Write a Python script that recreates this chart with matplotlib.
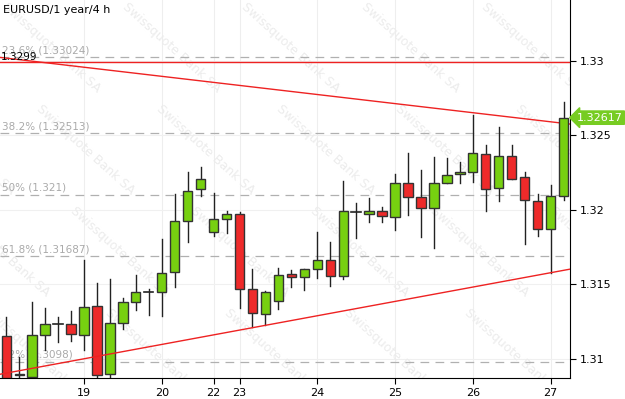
import matplotlib
matplotlib.use("Agg")
import matplotlib.pyplot as plt
from matplotlib.patches import Rectangle
import matplotlib.transforms as mtransforms

# 4h candles, EURUSD
opens = [1.31153, 1.3090, 1.30876, 1.31158, 1.31232, 1.3123, 1.31162, 1.31357, 1.30901, 1.31243,
         1.31381, 1.31448, 1.31448, 1.31579, 1.31923, 1.32136, 1.31847, 1.31934, 1.31968, 1.31471,
         1.31303, 1.31388, 1.31569, 1.31545, 1.31599, 1.31661, 1.31558, 1.31983, 1.31974, 1.3199,
         1.31952, 1.32176, 1.32082, 1.32012, 1.3218, 1.32238, 1.32254, 1.32372, 1.32142, 1.32361,
         1.32216, 1.32057, 1.31867, 1.32093]
highs = [1.31281, 1.3101, 1.31379, 1.31339, 1.31281, 1.31319, 1.31661, 1.31505, 1.31534, 1.31408,
         1.3156, 1.3147, 1.31802, 1.32104, 1.32254, 1.32287, 1.32115, 1.3199, 1.31981, 1.31605,
         1.31453, 1.31612, 1.31594, 1.31601, 1.31847, 1.31784, 1.32191, 1.32042, 1.32075, 1.32019,
         1.32238, 1.32377, 1.32265, 1.3235, 1.32344, 1.32317, 1.32634, 1.32433, 1.32552, 1.32433,
         1.3225, 1.32102, 1.32164, 1.32723]
lows = [1.3085, 1.3085, 1.3086, 1.31057, 1.31111, 1.3112, 1.31062, 1.30878, 1.3086, 1.31198,
        1.31326, 1.31292, 1.31287, 1.31482, 1.3178, 1.32093, 1.31824, 1.31844, 1.31341, 1.31213,
        1.31225, 1.31337, 1.31478, 1.3146, 1.31542, 1.31489, 1.31532, 1.31811, 1.31918, 1.31914,
        1.31862, 1.31963, 1.31817, 1.31746, 1.3218, 1.3218, 1.32187, 1.3199, 1.32059, 1.32203,
        1.31773, 1.31824, 1.31576, 1.32064]
closes = [1.3087, 1.3089, 1.31158, 1.31236, 1.31232, 1.31166, 1.3135, 1.30889, 1.31243, 1.31383,
          1.31448, 1.31448, 1.31576, 1.31923, 1.32126, 1.32203, 1.31934, 1.31968, 1.31471, 1.3131,
          1.31448, 1.31565, 1.31545, 1.31599, 1.31661, 1.31558, 1.31988, 1.31983, 1.31992, 1.31956,
          1.32176, 1.32082, 1.32012, 1.32176, 1.32232, 1.32252, 1.32377, 1.32138, 1.32361, 1.32203,
          1.32068, 1.31867, 1.32091, 1.32617]

day_pos = [6, 12, 16, 18, 24, 30, 36, 42]
day_labels = ["19", "20", "22", "23", "24", "25", "26", "27"]

fib_levels = [1.33024, 1.32513, 1.321, 1.31687, 1.3098]
fib_labels = ["23.6% (1.33024)", "38.2% (1.32513)", "50% (1.321)", "61.8% (1.31687)", "82% (1.3098)"]

resistance = 1.3299
trend_down = ([-0.48, 43.5], [1.33021, 1.32574])
trend_up = ([-0.48, 43.5], [1.30896, 1.31601])

y_ticks = [1.31, 1.315, 1.32, 1.325, 1.33]
y_tick_labels = ["1.31", "1.315", "1.32", "1.325", "1.33"]

GREEN = "#77d010"
RED = "#ee2a2a"

W, H = 625, 399
fig = plt.figure(figsize=(6.25, 3.99), dpi=100)
ax = fig.add_axes([0, 21 / H, 570 / W, 378 / H])
ax.set_xlim(-0.48, 43.5)
ax.set_ylim(1.30871, 1.33406)

# grid
for p in day_pos:
    ax.axvline(p, color="#eeeeee", lw=0.8, zorder=0)
for t in y_ticks:
    ax.axhline(t, color="#f0f0f0", lw=0.8, zorder=0)

# faint watermark behind everything
for wx in range(-1, 5):
    for wy in range(-1, 5):
        ax.text(wx * 0.21 + wy * 0.06, 1 - wy * 0.27, "Swissquote Bank SA", transform=ax.transAxes,
                rotation=-42, color="#ececec", fontsize=9, ha="left", va="top",
                zorder=0, clip_on=True)

# fibonacci levels
for lvl, lab in zip(fib_levels, fib_labels):
    ax.axhline(lvl, color="#b0b0b0", lw=0.9, ls=(0, (7, 5)), zorder=1)
    ax.text(-0.35, lvl + 0.00012, lab, color="#aaaaaa", fontsize=7.5, va="bottom", ha="left", zorder=1)

# resistance + trendlines
ax.axhline(resistance, color="#ee2222", lw=1.0, zorder=2)
ax.text(-0.45, resistance + 0.00002, "1.3299", color="black", fontsize=7.5, va="bottom", ha="left", zorder=3)
ax.plot(trend_down[0], trend_down[1], color="#ee2222", lw=1.0, zorder=2)
ax.plot(trend_up[0], trend_up[1], color="#ee2222", lw=1.0, zorder=5)

# candles
w = 0.72
for i, (o, h, l, c) in enumerate(zip(opens, highs, lows, closes)):
    ax.plot([i, i], [l, h], color="#222222", lw=1.0, zorder=3)
    col = GREEN if c >= o else RED
    if abs(c - o) < 0.00003:
        ax.plot([i - w / 2, i + w / 2], [o, o], color="#222222", lw=1.2, zorder=4)
    else:
        ax.add_patch(Rectangle((i - w / 2, min(o, c)), w, abs(c - o), facecolor=col,
                               edgecolor="#333333", lw=1.0, zorder=4))

# axes styling
for s in ["left", "top"]:
    ax.spines[s].set_visible(False)
ax.spines["right"].set_color("black")
ax.spines["bottom"].set_color("black")
ax.yaxis.tick_right()
ax.set_yticks(y_ticks)
ax.set_yticklabels(y_tick_labels)
ax.set_xticks(day_pos)
ax.set_xticklabels(day_labels)
ax.tick_params(axis="both", labelsize=8, color="black", length=4, width=0.8, pad=3)

# last price tag
trans = mtransforms.blended_transform_factory(ax.transAxes, ax.transData)
ax.text(1.012, closes[-1], "1.32617", transform=trans, color="white", fontsize=8,
        va="center", ha="left", zorder=6, clip_on=False,
        bbox=dict(boxstyle="larrow,pad=0.15", fc="#77cc22", ec="#77cc22"))

fig.text(3 / W, 1 - 10 / H, "EURUSD/1 year/4 h", fontsize=8, va="center", ha="left")

fig.savefig("out.png", dpi=100)
